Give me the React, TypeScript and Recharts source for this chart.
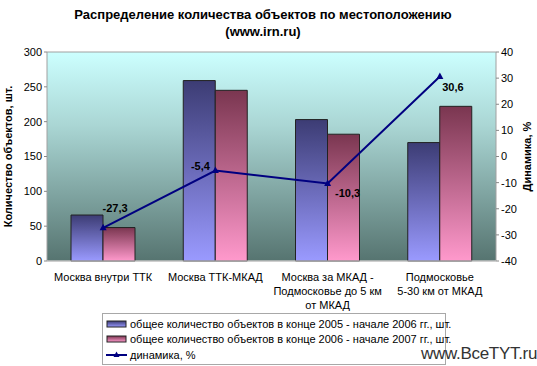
import { ComposedChart, Bar, Line, XAxis, YAxis, ReferenceArea, LabelList } from "recharts";

const categories = [
  "Москва внутри ТТК",
  "Москва ТТК-МКАД",
  "Москва за МКАД -\nПодмосковье до 5 км\nот МКАД",
  "Подмосковье\n5-30 км от МКАД",
];
const count2005 = [66, 259, 203, 170];
const count2006 = [48, 245, 182, 222];
const dynamics = [-27.3, -5.4, -10.3, 30.6];
const leftTicks = [0, 50, 100, 150, 200, 250, 300];
const rightTicks = [-40, -30, -20, -10, 0, 10, 20, 30, 40];

const seriesNames = [
  "общее количество объектов в конце 2005 - начале 2006 гг., шт.",
  "общее количество объектов в конце 2006 - начале 2007 гг., шт.",
  "динамика, %",
];

const data = categories.map((name, i) => ({
  name,
  a: count2005[i],
  b: count2006[i],
  d: dynamics[i],
}));

const FONT = "Arial, 'Liberation Sans', sans-serif";

// label offsets relative to each point, tuned by eye
const labelOffsets = [
  { dx: 12, dy: -16 },
  { dx: -15, dy: -1 },
  { dx: 20, dy: 14 },
  { dx: 13, dy: 14 },
];

function CategoryTick({ x, y, payload }: any) {
  const lines = String(payload.value).split("\n");
  return (
    <text x={x} y={y + 12} textAnchor="middle" fontSize={11} fontFamily={FONT} fill="#000">
      {lines.map((l, i) => (
        <tspan key={i} x={x} dy={i === 0 ? 0 : 14}>
          {l}
        </tspan>
      ))}
    </text>
  );
}

function Triangle({ cx, cy }: any) {
  if (cx == null || cy == null) return null;
  return <path d={`M${cx},${cy - 4} L${cx + 3.5},${cy + 2.5} L${cx - 3.5},${cy + 2.5} Z`} fill="#000080" />;
}

function DynLabel({ x, y, value, index }: any) {
  const o = labelOffsets[index] ?? { dx: 0, dy: -10 };
  return (
    <text x={x + o.dx} y={y + o.dy} textAnchor="middle" fontSize={11} fontWeight="bold" fontFamily={FONT} fill="#000">
      {String(value).replace(".", ",")}
    </text>
  );
}

export default function App() {
  return (
    <div style={{ position: "absolute", left: 0, top: 0, width: 537, height: 366, background: "#fff", fontFamily: FONT }}>
      <div style={{ position: "absolute", left: 0, top: 6, width: 526, textAlign: "center", fontSize: 13, fontWeight: "bold", lineHeight: "17px" }}>
        Распределение количества объектов по местоположению
        <br />
        (www.irn.ru)
      </div>
      <ComposedChart
        width={537}
        height={366}
        data={data}
        margin={{ top: 52, right: 0, bottom: 0, left: 0 }}
        barGap={0}
        style={{ position: "absolute", left: 0, top: 0 }}
      >
        <defs>
          <linearGradient id="bg" x1="0" y1="0" x2="0" y2="1">
            <stop offset="0" stopColor="#ccffff" />
            <stop offset="0.35" stopColor="#aad6d4" />
            <stop offset="1" stopColor="#567470" />
          </linearGradient>
          <linearGradient id="blueBar" x1="0" y1="0" x2="0" y2="1">
            <stop offset="0" stopColor="#3c3c74" />
            <stop offset="1" stopColor="#9a9aff" />
          </linearGradient>
          <linearGradient id="pinkBar" x1="0" y1="0" x2="0" y2="1">
            <stop offset="0" stopColor="#7a3650" />
            <stop offset="1" stopColor="#ff99cc" />
          </linearGradient>
        </defs>
        <XAxis
          dataKey="name"
          height={105}
          tick={<CategoryTick />}
          tickLine={false}
          axisLine={{ stroke: "#d0d0d0" }}
          interval={0}
        />
        <YAxis
          yAxisId="left"
          domain={[0, 300]}
          ticks={leftTicks}
          width={47}
          tick={{ fontSize: 11, fontFamily: FONT, fill: "#000" }}
          tickLine={{ stroke: "#888" }}
          tickSize={3}
          axisLine={false}
          label={{
            value: "Количество объектов, шт.",
            angle: -90,
            position: "insideLeft",
            offset: 8,
            style: { fontSize: 11, fontWeight: "bold", fontFamily: FONT, fill: "#000", textAnchor: "middle" },
          }}
        />
        <YAxis
          yAxisId="right"
          orientation="right"
          domain={[-40, 40]}
          ticks={rightTicks}
          width={41}
          tick={{ fontSize: 11, fontFamily: FONT, fill: "#000" }}
          tickLine={{ stroke: "#888" }}
          tickSize={3}
          axisLine={false}
          label={{
            value: "Динамика, %",
            angle: -90,
            position: "insideRight",
            offset: 10,
            style: { fontSize: 11, fontWeight: "bold", fontFamily: FONT, fill: "#000", textAnchor: "middle" },
          }}
        />
        <ReferenceArea yAxisId="left" y1={0} y2={300} fill="url(#bg)" fillOpacity={1} stroke="#a0a0a0" strokeWidth={1} />
        <Bar yAxisId="left" dataKey="a" name={seriesNames[0]} barSize={32} fill="url(#blueBar)" stroke="#222" strokeWidth={1} isAnimationActive={false} />
        <Bar yAxisId="left" dataKey="b" name={seriesNames[1]} barSize={32} fill="url(#pinkBar)" stroke="#222" strokeWidth={1} isAnimationActive={false} />
        <Line
          yAxisId="right"
          dataKey="d"
          name={seriesNames[2]}
          type="linear"
          stroke="#000080"
          strokeWidth={2}
          dot={<Triangle />}
          activeDot={false}
          isAnimationActive={false}
        >
          <LabelList dataKey="d" content={<DynLabel />} />
        </Line>
      </ComposedChart>
      <div
        style={{
          position: "absolute",
          left: 102,
          top: 313,
          width: 344,
          height: 52,
          border: "1px solid #a8a8a8",
          background: "#fff",
          fontSize: 11,
          boxSizing: "border-box",
        }}
      >
        {seriesNames.map((n, i) => (
          <div key={i} style={{ position: "absolute", left: 3, top: 2 + i * 15.5, height: 15, display: "flex", alignItems: "center", whiteSpace: "nowrap" }}>
            <svg width={22} height={10} style={{ marginRight: 2 }}>
              {i < 2 ? (
                <rect x={1} y={2} width={19} height={6} fill={i === 0 ? "url(#lgA)" : "url(#lgB)"} stroke="#222" strokeWidth={1} />
              ) : (
                <>
                  <line x1={0} y1={5} x2={21} y2={5} stroke="#000080" strokeWidth={2} />
                  <path d="M10.5,1.5 L13.5,7 L7.5,7 Z" fill="#000080" />
                </>
              )}
              <defs>
                <linearGradient id={i === 0 ? "lgA" : "lgB"} x1="0" y1="0" x2="0" y2="1">
                  <stop offset="0" stopColor={i === 0 ? "#3c3c74" : "#7a3650"} />
                  <stop offset="1" stopColor={i === 0 ? "#9a9aff" : "#ff99cc"} />
                </linearGradient>
              </defs>
            </svg>
            {n}
          </div>
        ))}
      </div>
      <div style={{ position: "absolute", left: 421, top: 344, fontSize: 17, color: "#333", letterSpacing: -0.3 }}>www.BceTYT.ru</div>
    </div>
  );
}
